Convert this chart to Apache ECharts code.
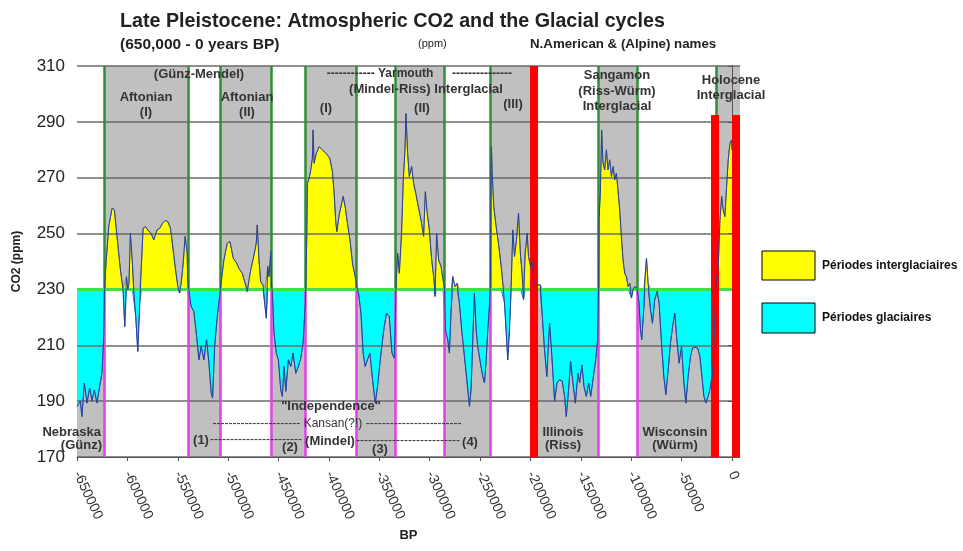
<!DOCTYPE html>
<html>
<head>
<meta charset="utf-8">
<title>Late Pleistocene: Atmospheric CO2 and the Glacial cycles</title>
<script src="https://cdn.jsdelivr.net/npm/echarts@6/dist/echarts.min.js"></script>
<style>
  html, body { margin: 0; padding: 0; background: #fff; }
  #chart { width: 963px; height: 551px; }
</style>
</head>
<body>
<div id="chart"></div>
<script>
// age in thousands of years (negative = before present)
const ageKyr = [
  -650.0, -646.7, -645.1, -642.7, -640.1, -637.4, -635.1, -632.8, -630.2, -627.5, -625.2, -623.5, -623.0,
  -622.5, -621.2, -618.5, -615.2, -612.9, -610.3, -606.9, -604.3, -602.6, -600.9, -599.6, -598.4, -597.0,
  -595.0, -593.7, -591.7, -589.7, -587.7, -586.0, -584.4, -582.0, -579.8, -576.5, -573.8, -570.5, -567.8,
  -565.1, -562.5, -559.9, -557.2, -554.6, -552.2, -549.9, -548.2, -546.6, -544.6, -542.7, -540.7, -540.0,
  -539.0, -536.7, -534.0, -531.3, -529.0, -526.7, -524.1, -521.4, -519.1, -516.8, -515.4, -513.4, -510.8,
  -508.5, -507.5, -504.2, -500.9, -498.2, -494.9, -491.5, -489.3, -486.0, -481.0, -477.6, -474.3, -472.1,
  -471.1, -469.4, -467.7, -465.4, -463.4, -462.1, -460.7, -459.4, -457.7, -457.0, -456.1, -454.5, -452.2,
  -450.2, -447.8, -446.2, -444.5, -442.8, -440.2, -437.8, -435.6, -432.9, -430.3, -427.9, -425.6, -423.5,
  -422.9, -421.9, -421.3, -419.6, -418.0, -416.4, -415.7, -414.7, -412.4, -409.7, -406.4, -403.1, -399.1,
  -396.5, -394.8, -393.1, -392.1, -389.8, -385.8, -383.9, -381.6, -378.9, -376.6, -373.9, -372.4, -370.6,
  -368.2, -366.0, -364.0, -361.7, -359.3, -356.7, -354.0, -351.7, -348.3, -345.1, -342.8, -340.1, -337.4,
  -335.1, -334.1, -333.4, -331.8, -330.1, -327.9, -326.2, -324.5, -323.5, -321.9, -320.2, -317.9, -315.9,
  -313.5, -311.3, -308.6, -306.0, -304.3, -302.6, -300.3, -298.0, -296.0, -294.6, -293.1, -291.1, -288.7,
  -286.7, -285.2, -284.4, -282.1, -280.4, -278.7, -277.1, -274.8, -272.8, -270.5, -268.2, -265.5, -262.8,
  -260.5, -258.9, -257.3, -255.6, -253.9, -252.3, -249.6, -247.3, -245.6, -243.9, -242.3, -240.7, -239.7,
  -239.2, -238.7, -238.0, -236.4, -234.0, -231.7, -229.0, -227.4, -225.7, -224.0, -222.5, -220.8, -219.1,
  -217.5, -215.8, -213.8, -211.8, -209.8, -208.5, -206.8, -205.2, -203.2, -201.9, -199.9, -198.0, -196.4,
  -192.6, -190.2, -188.2, -186.0, -183.7, -181.0, -178.7, -176.0, -173.7, -171.0, -168.4, -166.1, -164.4,
  -162.1, -160.1, -157.8, -155.4, -152.8, -151.2, -148.9, -146.9, -144.5, -142.2, -140.2, -137.9, -135.2,
  -133.3, -132.3, -132.0, -130.6, -129.3, -128.0, -126.3, -124.6, -123.0, -121.3, -119.6, -118.0, -116.3,
  -114.7, -113.1, -111.4, -109.7, -108.1, -106.4, -104.7, -103.1, -101.4, -99.7, -98.2, -96.5, -94.8,
  -94.2, -92.2, -90.8, -89.5, -87.5, -86.2, -84.8, -83.2, -80.8, -78.9, -76.6, -74.3, -72.3,
  -69.9, -67.6, -65.6, -63.3, -61.0, -58.4, -56.7, -55.0, -52.4, -50.0, -47.7, -45.7, -43.5,
  -41.1, -39.1, -36.8, -34.1, -31.8, -29.8, -27.8, -25.9, -23.6, -21.9, -19.0, -17.4, -15.9,
  -13.6, -11.9, -10.2, -8.7, -7.0, -5.3, -3.7, -2.0, -0.3, 0
];
// CO2 in ppm
const co2 = [
  188, 190, 184.5, 196.5, 189.3, 194.7, 190, 194, 189.3, 195.3, 200, 213, 222,
  231, 239.4, 252.5, 259.1, 258.5, 249, 237, 229.9, 216.7, 234.6, 229.9, 232.2, 250,
  239.4, 229.9, 220.3, 207.8, 225.1, 239.4, 251.9, 252.5, 251.3, 250.1, 247.7, 251.3, 251.9,
  253.7, 254.7, 254.3, 251.9, 244.2, 237, 231, 228.7, 232.2, 239.4, 249, 243, 232,
  229.9, 223.9, 222.1, 213.2, 204.8, 209.6, 204.8, 212, 203.6, 192.9, 191.1, 209.6, 220.3,
  227.5, 231, 240.6, 246.5, 247.1, 241.2, 239.4, 237.5, 235.8, 229.3, 237, 242.4, 246.6,
  253.1, 240.6, 232.8, 231.6, 223.9, 219.7, 238.2, 234.6, 243.6, 232, 228.7, 214.4, 207.2,
  204.8, 194.1, 191.7, 202.4, 193.5, 204.8, 202.4, 207.2, 200, 202.4, 205.4, 210.8, 225,
  231, 250.1, 268, 269.8, 272.8, 277, 287.1, 275.2, 278.8, 281.1, 280, 278.8, 277,
  272.2, 264.4, 253.7, 250.7, 256.7, 263.3, 259.7, 253.7, 247.2, 239.4, 234.6, 231, 228.7,
  221.5, 207.2, 202.4, 204.8, 207.2, 197.7, 189.3, 195.3, 207.2, 216.7, 221.5, 220.3, 207.2,
  205.4, 218, 231, 243, 235.8, 250.1, 269.2, 280, 293, 279, 270.4, 274, 268,
  263.9, 259.7, 254.9, 249, 265, 257.9, 251.3, 240.6, 234.6, 227.5, 250.1, 240.6, 238.2,
  233.4, 230.5, 215.5, 212, 207.2, 222.7, 234.6, 231, 232.2, 225.1, 215.5, 206, 196.5,
  188.1, 194.1, 210.8, 228.7, 215.5, 209.6, 203.6, 198.8, 196.5, 204.8, 215.5, 223.9, 231,
  268, 281, 272, 259.7, 252.5, 246.5, 238.2, 232.2, 225.1, 214.4, 204.8, 215.5, 231,
  251.3, 241.8, 247.7, 257.3, 241.8, 237, 226.3, 243, 250.1, 241.8, 238.2, 240, 232,
  231.6, 231.6, 220.3, 208.4, 198.8, 217.9, 206, 189.9, 196.5, 197.7, 197.1, 191.7, 184.5,
  194.1, 204.2, 196.5, 189.3, 200, 196.5, 203, 195.3, 191.7, 196.5, 191.7, 197.7, 204.8,
  212, 230.5, 254.9, 264.4, 287.1, 275.2, 272.8, 280, 272.8, 276.4, 270.4, 274, 269.2,
  271.6, 265.6, 258.5, 249, 240.6, 235.8, 234.6, 231, 232.2, 226.9, 229.9, 231, 231,
  230.5, 225.1, 215.5, 212, 222.7, 234.6, 241.2, 232.2, 222.7, 217.9, 226.3, 229.3, 225.1,
  210.8, 198.8, 192.3, 201.2, 210.8, 217.9, 221.5, 213.2, 203.6, 209.6, 196.5, 189.3, 198.8,
  206, 209, 209.3, 209, 206, 198.8, 191.7, 189.3, 191.7, 194.1, 200, 215, 232,
  238.2, 254.9, 263.3, 258.5, 256.1, 266.8, 276.4, 282.3, 283.5, 280
];

// period limits (kyr)
const glacialBands = [[-650, -623], [-540, -507.5], [-457, -423.5], [-372.4, -334.1], [-285.2, -239.7], [-196.4, -132.3], [-94.2, -15.9]];
const interglacialBands = [[-623, -540], [-507.5, -457], [-423.5, -372.4], [-334.1, -285.2], [-239.7, -196.4], [-132.3, -94.2], [-15.9, 8]];
const boundaries = [-623, -540, -507.5, -457, -423.5, -372.4, -334.1, -285.2, -239.7, -132.3, -94.2, -15.9];
// red markers: position (kyr) and top (ppm)
const redBarKyr = [-196.4, -17.4, 4];
const redBarTop = [310, 292.5, 292.5];

const xTicks = [-650000, -600000, -550000, -500000, -450000, -400000, -350000, -300000, -250000, -200000, -150000, -100000, -50000, 0];
const threshold = 230;

const toYear = k => Math.round(k * 1000);
const points = ageKyr.map((k, i) => [toYear(k), co2[i]]);

function bandData(bands) {
  const out = [];
  bands.forEach(([a, b]) => {
    const lo = toYear(a), hi = toYear(b);
    points.forEach(p => { if (p[0] >= lo && p[0] <= hi) out.push(p); });
    out.push([hi, '-']);
  });
  return out;
}

const lineGreen = { color: '#2f8f34', width: 2.5, type: 'solid' };
const lineMagenta = { color: '#e040e6', width: 2.5, type: 'solid' };
const markData = [];
boundaries.forEach(b => {
  const x = toYear(b);
  markData.push([{ coord: [x, 170], lineStyle: lineMagenta }, { coord: [x, threshold], lineStyle: lineMagenta }]);
  markData.push([{ coord: [x, threshold], lineStyle: lineGreen }, { coord: [x, 310], lineStyle: lineGreen }]);
});
const lineLime = { color: '#3fe03f', width: 3, type: 'solid' };
markData.push([{ coord: [-650000, threshold], lineStyle: lineLime }, { coord: [0, threshold], lineStyle: lineLime }]);
redBarKyr.forEach((k, i) => {
  const red = { color: '#ff0000', width: 8, type: 'solid', cap: 'butt' };
  markData.push([{ coord: [toYear(k), 170], lineStyle: red }, { coord: [toYear(k), redBarTop[i]], lineStyle: red }]);
});

const font = '"Liberation Sans", Arial, sans-serif';
function txt(text, x, y, opt) {
  opt = opt || {};
  return {
    type: 'text', x: x, y: y, z: 20, silent: true,
    style: {
      text: text, fill: opt.color || '#333',
      font: (opt.weight || 'bold') + ' ' + (opt.size || 13) + 'px ' + font,
      align: opt.align || 'center', verticalAlign: 'middle'
    }
  };
}

const labels = [
  txt('Late Pleistocene: Atmospheric CO2 and the Glacial cycles', 120, 22, { size: 19.7, align: 'left', color: '#222' }),
  txt('(650,000 - 0 years BP)', 120, 45, { size: 15.5, align: 'left', color: '#222' }),
  txt('(ppm)', 418, 44, { size: 11, weight: 'normal', align: 'left', color: '#222' }),
  txt('N.American & (Alpine) names', 530, 44, { size: 13.3, align: 'left', color: '#222' }),

  txt('(Günz-Mendel)', 199, 74),
  txt('Aftonian', 146, 97), txt('(I)', 146, 112),
  txt('Aftonian', 247, 97), txt('(II)', 247, 112),
  txt('------------ Yarmouth', 380, 74, { size: 12 }),
  txt('---------------', 482, 74, { size: 12 }),
  txt('(Mindel-Riss) Interglacial', 426, 89),
  txt('(I)', 326, 108), txt('(II)', 422, 108), txt('(III)', 513, 104),
  txt('Sangamon', 617, 75), txt('(Riss-Würm)', 617, 91), txt('Interglacial', 617, 106),
  txt('Holocene', 731, 80), txt('Interglacial', 731, 95),

  txt('Nebraska', 101, 432, { align: 'right' }), txt('(Günz)', 102, 445, { align: 'right' }),
  txt('"Independence"', 331, 406),
  txt('---------------------- Kansan(?!) ------------------------', 337, 424, { size: 12, weight: 'normal' }),
  txt('(1)', 201, 440), txt('-----------------------', 256, 440, { size: 12, weight: 'normal' }),
  txt('(2)', 290, 447), txt('(Mindel)', 330, 441),
  txt('--------------------------', 408, 441, { size: 12, weight: 'normal' }),
  txt('(3)', 380, 449), txt('(4)', 470, 442),
  txt('Illinois', 563, 432), txt('(Riss)', 563, 445),
  txt('Wisconsin', 675, 432), txt('(Würm)', 675, 445),

  { type: 'rect', x: 762, y: 251, z: 20, shape: { width: 53, height: 29 }, style: { fill: '#ffff00', stroke: '#000', lineWidth: 1 } },
  { type: 'rect', x: 762, y: 303, z: 20, shape: { width: 53, height: 30 }, style: { fill: '#00ffff', stroke: '#000', lineWidth: 1 } },
  txt('Périodes interglaciaires', 822, 266, { size: 12, align: 'left', color: '#111' }),
  txt('Périodes glaciaires', 822, 318, { size: 12, align: 'left', color: '#111' })
];

const chart = echarts.init(document.getElementById('chart'));
chart.setOption({
  animation: false,
  backgroundColor: '#fff',
  textStyle: { fontFamily: font },
  grid: {
    left: 77, right: 223, top: 66, bottom: 94,
    show: true, backgroundColor: '#c0c0c0', borderWidth: 0
  },
  xAxis: {
    type: 'value', min: -650000, max: 8000, interval: 50000, z: 4,
    name: 'BP', nameLocation: 'middle', nameGap: 71,
    nameTextStyle: { fontSize: 13, color: '#222', fontWeight: 'bold' },
    splitLine: { show: false },
    axisLine: { show: true, lineStyle: { color: '#555', width: 1 } },
    axisTick: { show: true, length: 4, lineStyle: { color: '#555' }, customValues: xTicks },
    axisLabel: { rotate: -65, fontSize: 14, color: '#333', margin: 15, customValues: xTicks, formatter: v => String(v) }
  },
  yAxis: {
    type: 'value', min: 170, max: 310, interval: 20, z: 4,
    name: 'CO2 (ppm)', nameLocation: 'middle', nameGap: 54, nameRotate: 90,
    nameTextStyle: { fontSize: 12, color: '#222', fontWeight: 'bold' },
    splitLine: { show: true, lineStyle: { color: '#6a6a6a', width: 1.5 } },
    axisLine: { show: true, lineStyle: { color: '#555', width: 1 } },
    axisTick: { show: true, length: 4, lineStyle: { color: '#555' } },
    axisLabel: { fontSize: 17, color: '#222', margin: 12 }
  },
  series: [
    {
      type: 'line', z: 2, silent: true, showSymbol: false, connectNulls: false,
      data: bandData(interglacialBands),
      lineStyle: { width: 0 },
      areaStyle: { color: '#ffffff', opacity: 1, origin: 'start' }
    },
    {
      type: 'line', z: 2, silent: true, showSymbol: false, connectNulls: false,
      data: bandData(glacialBands),
      lineStyle: { width: 0 },
      areaStyle: { color: '#ffffff', opacity: 1, origin: 'end' }
    },
    {
      name: 'Périodes interglaciaires', type: 'line', z: 3, silent: true, showSymbol: false,
      data: points.map(p => [p[0], Math.max(p[1], threshold)]),
      lineStyle: { color: '#8a8a62', width: 1 },
      areaStyle: { color: '#ffff00', opacity: 1, origin: threshold }
    },
    {
      name: 'Périodes glaciaires', type: 'line', z: 3, silent: true, showSymbol: false,
      data: points.map(p => [p[0], Math.min(p[1], threshold)]),
      lineStyle: { color: '#3a7cc4', width: 1 },
      areaStyle: { color: '#00ffff', opacity: 1, origin: threshold }
    },
    {
      name: 'CO2', type: 'line', z: 6, silent: true, showSymbol: false, clip: false,
      data: points,
      lineStyle: { color: '#28409e', width: 1 },
      markLine: {
        silent: true, symbol: ['none', 'none'], label: { show: false },
        emphasis: { disabled: true },
        data: markData
      }
    }
  ],
  graphic: labels
});
</script>
</body>
</html>
